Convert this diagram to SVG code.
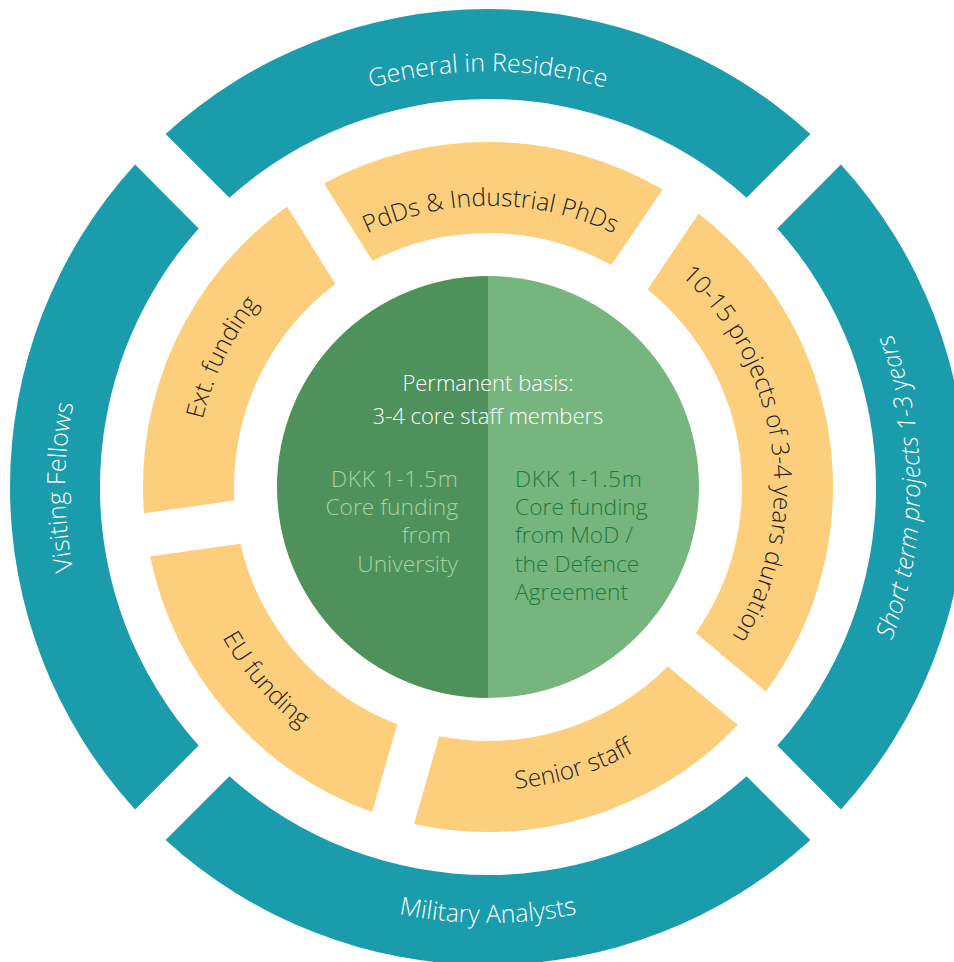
<svg xmlns="http://www.w3.org/2000/svg" width="954" height="962" viewBox="0 0 954 962">
<style>
.teal{fill:#1b9cad}
.orange{fill:#fdce7c}
.tl{font-family:"Open Sans","Liberation Sans",sans-serif;font-weight:300;font-size:25px;fill:#ffffff}
.ol{font-family:"Open Sans","Liberation Sans",sans-serif;font-weight:300;font-size:24.5px;fill:#1e1e1e}
.ct{font-family:"Open Sans","Liberation Sans",sans-serif;font-weight:300;font-size:22px}
.cb{font-family:"Open Sans","Liberation Sans",sans-serif;font-weight:300;font-size:22.8px}
</style>
<defs>
<path id="pGen" d="M121.9,282.5 A423,423 0 0 1 854.1,282.5"/>
<path id="pVis" d="M276.5,853.3 A423,423 0 0 1 276.5,120.7"/>
<path id="pShort" d="M704,861.1 A432,432 0 0 0 704,112.9"/>
<path id="pMil" d="M110.4,705 A436,436 0 0 0 865.6,705"/>
<path id="pPhd" d="M242,349.2 A287,287 0 0 1 739,349.2"/>
<path id="pProj" d="M595.2,221.7 A286,286 0 0 1 664.1,712.4"/>
<path id="pExt" d="M245.1,651.1 A293,293 0 0 1 467.6,194.7"/>
<path id="pEU" d="M199.6,386.7 A305,305 0 0 0 546.2,786.4"/>
<path id="pSen" d="M281.4,708.6 A303,303 0 0 0 783.2,555.2"/>
</defs>

<g id="general-in-residence">
<path class="teal" d="M165.6,134.1 A478,478 0 0 1 810.4,134.1 L746.6,197.7 A388,388 0 0 0 229.4,197.7 Z"/>
<text class="tl"><textPath href="#pGen" startOffset="50%" text-anchor="middle">General in Residence</textPath></text>
</g>
<g id="short-term-projects">
<path class="teal" d="M840.9,164.6 A478,478 0 0 1 840.9,809.4 L777.3,745.6 A388,388 0 0 0 777.3,228.4 Z"/>
<text class="tl" font-style="italic"><textPath href="#pShort" startOffset="50%" text-anchor="middle">Short term projects 1-3 years</textPath></text>
</g>
<g id="military-analysts">
<path class="teal" d="M810.4,839.9 A478,478 0 0 1 165.6,839.9 L229.4,776.3 A388,388 0 0 0 746.6,776.3 Z"/>
<text class="tl"><textPath href="#pMil" startOffset="50%" text-anchor="middle">Military Analysts</textPath></text>
</g>
<g id="visiting-fellows">
<path class="teal" d="M135.1,809.4 A478,478 0 0 1 135.1,164.6 L198.7,228.4 A388,388 0 0 0 198.7,745.6 Z"/>
<text class="tl"><textPath href="#pVis" startOffset="50%" text-anchor="middle">Visiting Fellows</textPath></text>
</g>

<g id="pdds-industrial-phds">
<path class="orange" d="M324,183.5 A345,345 0 0 1 662.5,189.4 L611.4,265 A254,254 0 0 0 372.4,260.8 Z"/>
<text class="ol"><textPath href="#pPhd" startOffset="50%" text-anchor="middle">PdDs &amp; Industrial PhDs</textPath></text>
</g>
<g id="projects">
<path class="orange" d="M698.6,213.7 A345,345 0 0 1 765.8,691.6 L695.9,633 A254,254 0 0 0 647.6,289.4 Z"/>
<text class="ol"><textPath href="#pProj" startOffset="50%" text-anchor="middle">10-15 projects of 3-4 years duration</textPath></text>
</g>
<g id="senior-staff">
<path class="orange" d="M737.75,725 A345,345 0 0 1 414.05,824 L439.2,736.3 A254,254 0 0 0 667.8,666.4 Z"/>
<text class="ol"><textPath href="#pSen" startOffset="50%" text-anchor="middle">Senior staff</textPath></text>
</g>
<g id="eu-funding">
<path class="orange" d="M372.1,812 A345,345 0 0 1 150.1,556.5 L240.4,543.8 A254,254 0 0 0 397.3,724.3 Z"/>
<text class="ol"><textPath href="#pEU" startOffset="50%" text-anchor="middle">EU funding</textPath></text>
</g>
<g id="ext-funding">
<path class="orange" d="M144,513.3 A345,345 0 0 1 287.05,206.55 L335.4,283.9 A254,254 0 0 0 234.4,500.6 Z"/>
<text class="ol"><textPath href="#pExt" startOffset="50%" text-anchor="middle">Ext. funding</textPath></text>
</g>

<g id="core">
<path fill="#4e915a" d="M488,276 A211,211 0 0 0 488,698 Z"/>
<path fill="#76b67e" d="M488,276 A211,211 0 0 1 488,698 Z"/>
<text class="ct" fill="#ffffff" text-anchor="middle"><tspan x="488" y="391">Permanent basis:</tspan><tspan x="488" y="424">3-4 core staff members</tspan></text>
<text class="cb" fill="#a6d3a0" text-anchor="end"><tspan x="458" y="487" textLength="127">DKK 1-1.5m</tspan><tspan x="458" y="515">Core funding</tspan><tspan x="451" y="543">from</tspan><tspan x="458" y="572">University</tspan></text>
<text class="cb" fill="#24793b"><tspan x="515" y="487" textLength="127">DKK 1-1.5m</tspan><tspan x="515" y="515">Core funding</tspan><tspan x="515" y="543">from MoD /</tspan><tspan x="515" y="572">the Defence</tspan><tspan x="515" y="600">Agreement</tspan></text>
</g>
<g id="connectors"/>
</svg>
